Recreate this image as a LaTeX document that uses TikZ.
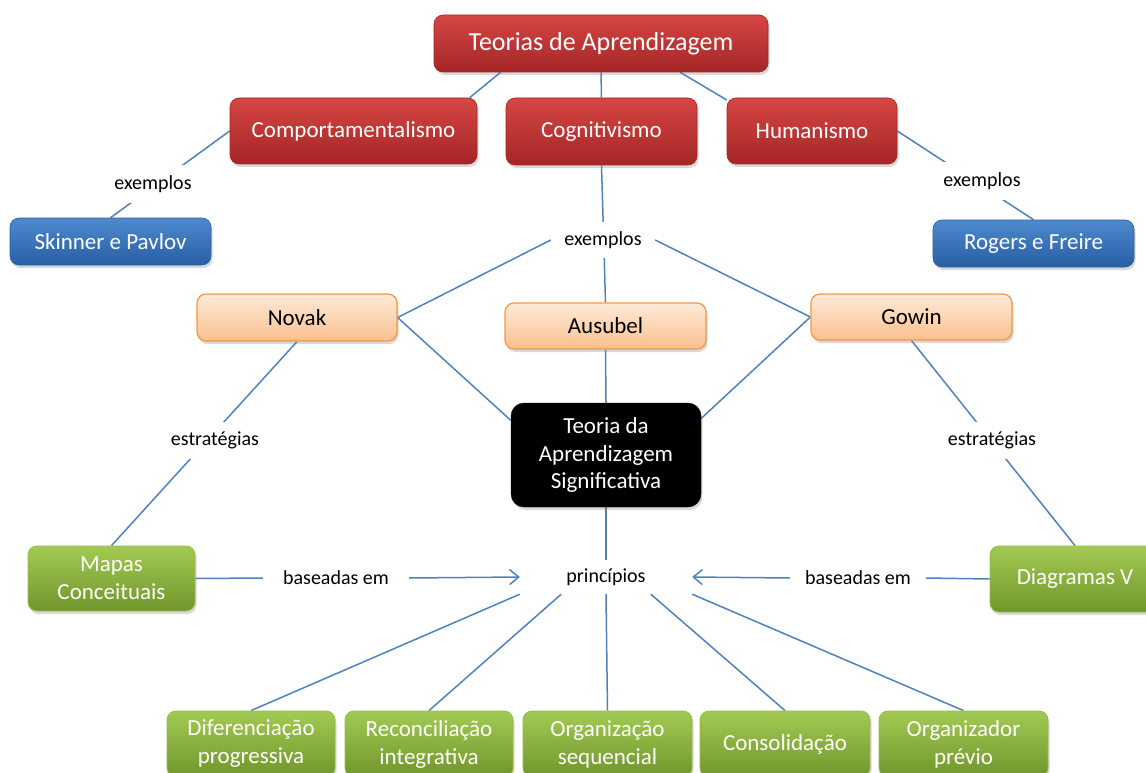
\documentclass[tikz,border=0pt]{standalone}
\usepackage{fontspec}
\setmainfont{Carlito}
\usetikzlibrary{shadows,arrows.meta}
\pgfdeclarelayer{bg}
\pgfsetlayers{bg,main}

\definecolor{linkblue}{RGB}{79,129,189}
\definecolor{redtop}{RGB}{214,70,68}
\definecolor{redbot}{RGB}{164,38,38}
\definecolor{bluetop}{RGB}{78,138,206}
\definecolor{bluebot}{RGB}{40,94,164}
\definecolor{orangetop}{RGB}{254,234,216}
\definecolor{orangebot}{RGB}{250,192,143}
\definecolor{orangeline}{RGB}{245,150,70}
\definecolor{greentop}{RGB}{162,202,82}
\definecolor{greenbot}{RGB}{112,150,44}
\definecolor{greenline}{RGB}{150,190,70}

\begin{document}
\begin{tikzpicture}[x=1pt,y=-1pt,
  box/.style={rounded corners=9pt, inner sep=0pt, align=center,
    font=\fontsize{23}{28}\selectfont, text=white,
    drop shadow={shadow xshift=1.5pt, shadow yshift=-3pt, opacity=0.3}},
  redbox/.style={box, top color=redtop, bottom color=redbot, draw=redbot, line width=0.6pt},
  bluebox/.style={box, top color=bluetop, bottom color=bluebot, draw=bluebot, line width=0.6pt},
  peachbox/.style={box, text=black, top color=orangetop, bottom color=orangebot, draw=orangeline, line width=1.2pt},
  greenbox/.style={box, top color=greentop, bottom color=greenbot, draw=greenline, line width=0.8pt},
  darkbox/.style={box, rounded corners=13pt, fill=black, draw=black, font=\fontsize{23}{27.5}\selectfont},
  lbl/.style={font=\fontsize{20}{24}\selectfont, text=black, inner xsep=4pt, inner ysep=0pt, minimum height=37pt},
  cover/.style={lbl, fill=white},
  link/.style={draw=linkblue, line width=1.5pt},
  arr/.style={link, -{Straight Barb[length=9pt,width=15pt]}}
]
\useasboundingbox (0,0) rectangle (1146,773);

% theories
\node[redbox, minimum width=334, minimum height=57, font=\fontsize{26}{30}\selectfont] (title) at (601,43.5) {Teorias de Aprendizagem};
\node[redbox, minimum width=247, minimum height=66] (comp) at (353.5,131) {Comportamentalismo};
\node[redbox, minimum width=191, minimum height=67] (cogn) at (601.5,131.5) {Cognitivismo};
\node[redbox, minimum width=170, minimum height=66] (hum) at (812,131) {Humanismo};

% examples
\node[bluebox, minimum width=201, minimum height=47] (skinner) at (110.5,241.5) {Skinner e Pavlov};
\node[bluebox, minimum width=201, minimum height=47] (rogers) at (1033.5,243.5) {Rogers e Freire};
\node[peachbox, minimum width=200, minimum height=47] (novak) at (297,317.5) {Novak};
\node[peachbox, minimum width=201, minimum height=46] (ausubel) at (605.5,326) {Ausubel};
\node[peachbox, minimum width=201, minimum height=46] (gowin) at (911.5,317) {Gowin};

% central theory
\node[darkbox, minimum width=190, minimum height=104] (tas) at (606,455) {Teoria da\\Aprendizagem\\Significativa};

% strategies
\node[greenbox, minimum width=167, minimum height=65] (mapas) at (111.5,578.5) {Mapas\\Conceituais};
\node[greenbox, minimum width=170, minimum height=66] (diag) at (1075,579) {Diagramas V};

% principles
\node[greenbox, minimum width=168, minimum height=66] (dif) at (251,744) {Diferenciação\\progressiva};
\node[greenbox, minimum width=168, minimum height=66] (rec) at (429,744) {Reconciliação\\integrativa};
\node[greenbox, minimum width=169, minimum height=66] (org) at (607.5,744) {Organização\\sequencial};
\node[greenbox, minimum width=170, minimum height=66] (cons) at (785,744) {Consolidação};
\node[greenbox, minimum width=169, minimum height=66] (orgp) at (963.5,744) {Organizador\\prévio};

% link labels
\node[cover] (ex1) at (153,184) {exemplos};
\node[cover, minimum width=104, minimum height=36] (ex2) at (603,240) {exemplos};
\node[cover] (ex3) at (982,181) {exemplos};
\node[cover] (est1) at (215,440) {estratégias};
\node[cover] (est2) at (992,440) {estratégias};
\node[lbl, inner xsep=20pt] (bas1) at (336,578) {baseadas em};
\node[lbl, inner xsep=15pt] (bas2) at (858,578) {baseadas em};
\node[lbl, minimum width=172, minimum height=34] (princ) at (606,577) {princípios};

\begin{pgfonlayer}{bg}
  \draw[link] (title.196.5) -- (comp.16.5);
  \draw[link] (title.south) -- (cogn.north);
  \draw[link] (title.340.8) -- (hum.160);
  \draw[link] (comp.west) -- (skinner.north);
  \draw[link] (hum.east) -- (rogers.north);
  \draw[link] (cogn.south) -- (ausubel.north);
  \draw[link] (ex2.west) -- (novak.east);
  \draw[link] (ex2.east) -- (gowin.west);
  \draw[link] (novak.east) -- (tas.160);
  \draw[link] (gowin.west) -- (tas.21);
  \draw[link] (ausubel.south) -- (tas.north);
  \draw[link] (tas.south) -- (princ.north);
  \draw[link] (novak.south) -- (mapas.north);
  \draw[link] (gowin.south) -- (diag.north);
  \draw[link] (mapas.east) -- (bas1.west);
  \draw[arr] (bas1.east) -- (princ.west);
  \draw[link] (diag.west) -- (bas2.east);
  \draw[arr] (bas2.west) -- (princ.east);
  \draw[link] (princ.south west) -- (dif.north);
  \draw[link] (princ.201) -- (rec.north);
  \draw[link] (princ.south) -- (org.north);
  \draw[link] (princ.339) -- (cons.north);
  \draw[link] (princ.south east) -- (orgp.north);
\end{pgfonlayer}
\end{tikzpicture}
\end{document}
